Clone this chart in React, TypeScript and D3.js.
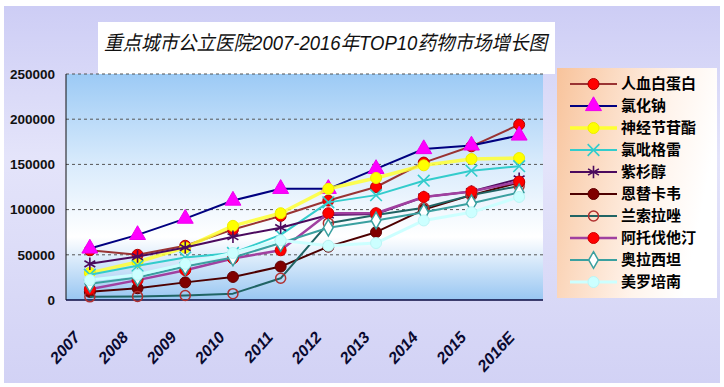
import * as d3 from "d3";
import { useEffect, useRef } from "react";

const years = ["2007", "2008", "2009", "2010", "2011", "2012", "2013", "2014", "2015", "2016E"];
const yTicks = [0, 50000, 100000, 150000, 200000, 250000];
const title = "重点城市公立医院2007-2016年TOP10药物市场增长图";

const drugNames = ["人血白蛋白", "氯化钠", "神经节苷酯", "氯吡格雷", "紫杉醇", "恩替卡韦", "兰索拉唑", "阿托伐他汀", "奥拉西坦", "美罗培南"];

const albumin = [55000, 50000, 60000, 78000, 93000, 110000, 125000, 152000, 170000, 194000];
const sodiumChloride = [57000, 72000, 90000, 110000, 123000, 123000, 145000, 167000, 171000, 182000];
const ganglioside = [30000, 42000, 58000, 82000, 96000, 123000, 135000, 149000, 156000, 157000];
const clopidogrel = [28000, 38000, 47000, 52000, 72000, 108000, 116000, 132000, 143000, 148000];
const paclitaxel = [40000, 48000, 58000, 70000, 80000, 94000, 95000, 114000, 120000, 134000];
const entecavir = [9000, 13000, 19500, 25500, 37000, 59000, 75000, 100000, 116000, 130000];
const lansoprazole = [3500, 4000, 5000, 7000, 24000, 85000, 94000, 102000, 116000, 126000];
const atorvastatin = [12000, 22000, 33000, 46000, 55000, 96000, 96000, 114000, 120000, 131000];
const oxiracetam = [18000, 25000, 37000, 47000, 63000, 80000, 88000, 97000, 107000, 119000];
const meropenem = [22000, 28000, 40000, 52000, 66000, 60000, 63000, 88000, 97000, 114000];

const seriesValues = [albumin, sodiumChloride, ganglioside, clopidogrel, paclitaxel, entecavir, lansoprazole, atorvastatin, oxiracetam, meropenem];

// line colour, line width, marker kind, marker fill, marker stroke
const styles = [
  { line: "#993333", width: 2, marker: "circle", fill: "#ff0000", stroke: "#b00000" },
  { line: "#000080", width: 2, marker: "triangle", fill: "#ff00ff", stroke: "#ee00ee" },
  { line: "#ffff33", width: 3.5, marker: "circle", fill: "#ffff00", stroke: "#eeee00" },
  { line: "#33cccc", width: 2, marker: "times", fill: "none", stroke: "#33cccc" },
  { line: "#4b0a5e", width: 2, marker: "asterisk", fill: "none", stroke: "#4b0a5e" },
  { line: "#4d0000", width: 2, marker: "circle", fill: "#800000", stroke: "#600000" },
  { line: "#206464", width: 2, marker: "hollow", fill: "none", stroke: "#b03030" },
  { line: "#a040a0", width: 2.5, marker: "circle", fill: "#ff0000", stroke: "#d00000" },
  { line: "#3aa0a0", width: 2, marker: "diamond", fill: "#ffffff", stroke: "#3aa0a0" },
  { line: "#ccffff", width: 3, marker: "circle", fill: "#ccffff", stroke: "#bbf5f5" },
];

type Sel = d3.Selection<SVGGElement, unknown, null, undefined>;

function drawMarker(g: Sel, st: (typeof styles)[number], cx: number, cy: number) {
  const sym = (type: d3.SymbolType, size: number) => d3.symbol().type(type).size(size)()!;
  if (st.marker === "circle") {
    g.append("circle").attr("cx", cx).attr("cy", cy).attr("r", 5.5).attr("fill", st.fill).attr("stroke", st.stroke).attr("stroke-width", 1);
  } else if (st.marker === "hollow") {
    g.append("circle").attr("cx", cx).attr("cy", cy).attr("r", 5).attr("fill", "none").attr("stroke", st.stroke).attr("stroke-width", 1.5);
  } else if (st.marker === "triangle") {
    g.append("path").attr("d", sym(d3.symbolTriangle, 110)).attr("transform", `translate(${cx},${cy})`).attr("fill", st.fill).attr("stroke", st.stroke);
  } else if (st.marker === "diamond") {
    g.append("path").attr("d", sym(d3.symbolDiamond, 80)).attr("transform", `translate(${cx},${cy})`).attr("fill", st.fill).attr("stroke", st.stroke).attr("stroke-width", 1.5);
  } else if (st.marker === "times") {
    const t = (d3 as any).symbolTimes ?? d3.symbolCross;
    g.append("path").attr("d", sym(t, 90)).attr("transform", `translate(${cx},${cy})`).attr("fill", "none").attr("stroke", st.stroke).attr("stroke-width", 1.6);
  } else if (st.marker === "asterisk") {
    const t = (d3 as any).symbolAsterisk ?? d3.symbolCross;
    g.append("path").attr("d", sym(t, 110)).attr("transform", `translate(${cx},${cy})`).attr("fill", "none").attr("stroke", st.stroke).attr("stroke-width", 1.6);
  }
}

export default function App() {
  const svgRef = useRef<SVGSVGElement | null>(null);

  useEffect(() => {
    const svg = d3.select(svgRef.current);
    svg.selectAll("*").remove();

    const plot = { left: 66, top: 74, right: 543, bottom: 300 };
    const defs = svg.append("defs");

    // outer lavender background
    const bg = defs.append("linearGradient").attr("id", "bgGrad").attr("x1", 0).attr("y1", 0).attr("x2", 0).attr("y2", 1);
    bg.append("stop").attr("offset", "0%").attr("stop-color", "#cdcdf5");
    bg.append("stop").attr("offset", "40%").attr("stop-color", "#e4e4fa");
    bg.append("stop").attr("offset", "100%").attr("stop-color", "#d2d2f5");

    // plot area blue-white-blue
    const pg = defs.append("linearGradient").attr("id", "plotGrad").attr("x1", 0).attr("y1", 0).attr("x2", 0).attr("y2", 1);
    pg.append("stop").attr("offset", "0%").attr("stop-color", "#9ccaf5");
    pg.append("stop").attr("offset", "40%").attr("stop-color", "#d9ebfc");
    pg.append("stop").attr("offset", "72%").attr("stop-color", "#ffffff");
    pg.append("stop").attr("offset", "100%").attr("stop-color", "#98c6f2");

    // legend peach
    const lg = defs.append("linearGradient").attr("id", "legGrad").attr("x1", 0).attr("y1", 0).attr("x2", 1).attr("y2", 0.3);
    lg.append("stop").attr("offset", "0%").attr("stop-color", "#f8c39b");
    lg.append("stop").attr("offset", "70%").attr("stop-color", "#fff4ec");
    lg.append("stop").attr("offset", "100%").attr("stop-color", "#ffffff");

    svg.append("rect").attr("x", 4).attr("y", 6).attr("width", 716).attr("height", 377).attr("fill", "url(#bgGrad)");

    // title box
    svg.append("rect").attr("x", 98).attr("y", 22).attr("width", 457).attr("height", 52).attr("fill", "#ffffff");
    svg
      .append("text")
      .attr("x", 104)
      .attr("y", 50)
      .attr("textLength", 443)
      .attr("lengthAdjust", "spacingAndGlyphs")
      .style("font-family", "'Liberation Sans', 'Noto Sans CJK SC', sans-serif")
      .style("font-style", "italic")
      .style("font-size", "20px")
      .attr("fill", "#111")
      .text(title);

    const x = d3.scaleBand().domain(years).range([plot.left, plot.right]);
    const y = d3.scaleLinear().domain([0, 250000]).range([plot.bottom, plot.top]);
    const cx = (d: string) => x(d)! + x.bandwidth() / 2;

    svg.append("rect").attr("x", plot.left).attr("y", plot.top).attr("width", plot.right - plot.left).attr("height", plot.bottom - plot.top).attr("fill", "url(#plotGrad)");

    // dashed gridlines
    svg
      .append("g")
      .selectAll("line")
      .data(yTicks.filter((t) => t > 0))
      .join("line")
      .attr("x1", plot.left)
      .attr("x2", plot.right)
      .attr("y1", (d) => y(d))
      .attr("y2", (d) => y(d))
      .attr("stroke", "#555")
      .attr("stroke-width", 1)
      .attr("stroke-dasharray", "3,3");

    // axis lines
    svg.append("line").attr("x1", plot.left).attr("x2", plot.left).attr("y1", plot.top).attr("y2", plot.bottom).attr("stroke", "#111");
    svg.append("line").attr("x1", plot.left).attr("x2", plot.right).attr("y1", plot.bottom).attr("y2", plot.bottom).attr("stroke", "#0a0a40").attr("stroke-width", 1.5);

    // y labels
    svg
      .append("g")
      .selectAll("text")
      .data(yTicks)
      .join("text")
      .attr("x", 55)
      .attr("y", (d) => y(d))
      .attr("dy", "0.36em")
      .attr("text-anchor", "end")
      .style("font-family", "'Liberation Sans', Arial, sans-serif")
      .style("font-weight", "bold")
      .style("font-size", "13.5px")
      .attr("fill", "#111")
      .text((d) => String(d));

    // x labels, slanted
    svg
      .append("g")
      .selectAll("text")
      .data(years)
      .join("text")
      .attr("transform", (d, i) => `translate(${cx(d) - 9 + i * 0.6},${338}) rotate(-48)`)
      .attr("text-anchor", "end")
      .style("font-family", "'Liberation Sans', Arial, sans-serif")
      .style("font-weight", "bold")
      .style("font-style", "italic")
      .style("font-size", "16px")
      .attr("fill", "#0a0a30")
      .text((d) => d);

    // series
    const line = d3
      .line<number>()
      .x((_, i) => cx(years[i]))
      .y((d) => y(d));

    const seriesG = svg.append("g");
    seriesValues.forEach((vals, si) => {
      const st = styles[si];
      const g = seriesG.append("g");
      g.append("path")
        .attr("d", line(vals))
        .attr("fill", "none")
        .attr("stroke", st.line)
        .attr("stroke-width", st.width)
        .attr("stroke-linejoin", "round")
        .attr("opacity", si === 2 ? 0.85 : 1);
      vals.forEach((v, i) => drawMarker(g, st, cx(years[i]), y(v)));
    });

    // legend
    const legend = svg.append("g");
    legend.append("rect").attr("x", 557).attr("y", 68).attr("width", 160).attr("height", 230).attr("fill", "url(#legGrad)");
    drugNames.forEach((name, i) => {
      const st = styles[i];
      const ly = 84 + i * 22;
      const g = legend.append("g");
      g.append("line").attr("x1", 570).attr("x2", 617).attr("y1", ly).attr("y2", ly).attr("stroke", st.line).attr("stroke-width", st.width);
      drawMarker(g, st, 593.5, ly);
      g.append("text")
        .attr("x", 621)
        .attr("y", ly)
        .attr("dy", "0.36em")
        .style("font-family", "'Noto Sans CJK SC', sans-serif")
        .style("font-weight", "bold")
        .style("font-size", "15px")
        .attr("fill", "#000")
        .text(name);
    });
  }, []);

  return <svg ref={svgRef} width={724} height={387} style={{ position: "absolute", left: 0, top: 0 }} />;
}
